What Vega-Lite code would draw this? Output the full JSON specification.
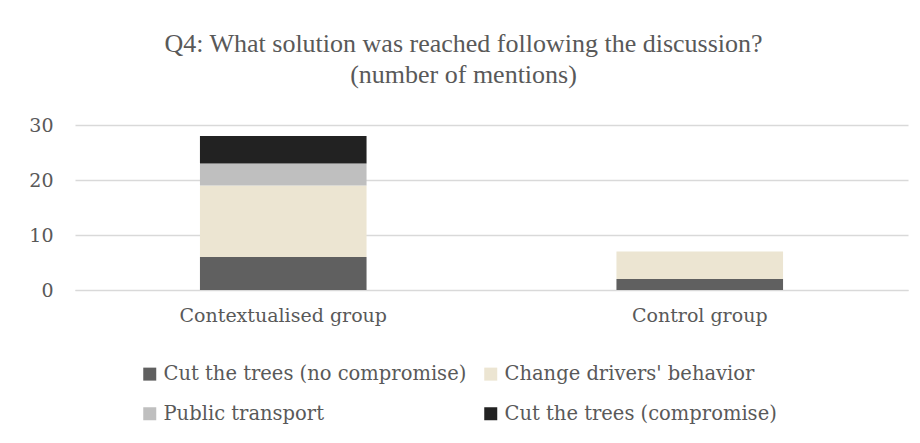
{
  "$schema": "https://vega.github.io/schema/vega-lite/v6.json",
  "autosize": "none",
  "width": 833,
  "height": 165,
  "padding": {"left": 75, "top": 125, "right": 12, "bottom": 153},
  "background": "white",
  "title": {
    "text": ["Q4: What solution was reached following the discussion?", "(number of mentions)"],
    "font": "Liberation Serif",
    "fontSize": 26,
    "fontWeight": "normal",
    "color": "#595959",
    "anchor": "middle",
    "dx": -28,
    "lineHeight": 31,
    "offset": 28
  },
  "data": {
    "values": [
      {"group": "Contextualised group", "solution": "Cut the trees (no compromise)", "rank": 1, "mentions": 6},
      {"group": "Contextualised group", "solution": "Change drivers' behavior", "rank": 2, "mentions": 13},
      {"group": "Contextualised group", "solution": "Public transport", "rank": 3, "mentions": 4},
      {"group": "Contextualised group", "solution": "Cut the trees (compromise)", "rank": 4, "mentions": 5},
      {"group": "Control group", "solution": "Cut the trees (no compromise)", "rank": 1, "mentions": 2},
      {"group": "Control group", "solution": "Change drivers' behavior", "rank": 2, "mentions": 5},
      {"group": "Control group", "solution": "Public transport", "rank": 3, "mentions": 0},
      {"group": "Control group", "solution": "Cut the trees (compromise)", "rank": 4, "mentions": 0}
    ]
  },
  "mark": {"type": "bar", "width": {"band": 0.4}},
  "encoding": {
    "x": {
      "field": "group",
      "type": "nominal",
      "sort": null,
      "scale": {"paddingInner": 0, "paddingOuter": 0},
      "axis": {
        "title": null,
        "labelAngle": 0,
        "labelFont": "DejaVu Serif",
        "labelFontSize": 19,
        "labelColor": "#595959",
        "labelPadding": 16,
        "labelLimit": 400,
        "labelOverlap": false,
        "ticks": false,
        "domainColor": "#d9d9d9",
        "domainWidth": 1
      }
    },
    "y": {
      "field": "mentions",
      "type": "quantitative",
      "stack": "zero",
      "scale": {"domain": [0, 30]},
      "axis": {
        "title": null,
        "values": [0, 10, 20, 30],
        "labelFont": "DejaVu Serif",
        "labelFontSize": 19,
        "labelColor": "#595959",
        "labelPadding": 22,
        "ticks": false,
        "domain": false,
        "gridColor": "#d9d9d9",
        "gridWidth": 1.3
      }
    },
    "order": {"field": "rank", "type": "quantitative", "sort": "ascending"},
    "color": {
      "field": "solution",
      "type": "nominal",
      "scale": {
        "domain": ["Cut the trees (no compromise)", "Change drivers' behavior", "Public transport", "Cut the trees (compromise)"],
        "range": ["#606060", "#ece5d2", "#bfbfbf", "#222222"]
      },
      "legend": {
        "title": null,
        "orient": "none",
        "legendX": 65,
        "legendY": 239,
        "direction": "horizontal",
        "columns": 2,
        "symbolType": "square",
        "symbolSize": 169,
        "symbolStrokeWidth": 0,
        "labelFont": "DejaVu Serif",
        "labelFontSize": 19.5,
        "labelColor": "#595959",
        "labelOffset": 4,
        "labelLimit": 400,
        "rowPadding": 19,
        "columnPadding": 14
      }
    }
  },
  "config": {
    "view": {"stroke": null}
  }
}
